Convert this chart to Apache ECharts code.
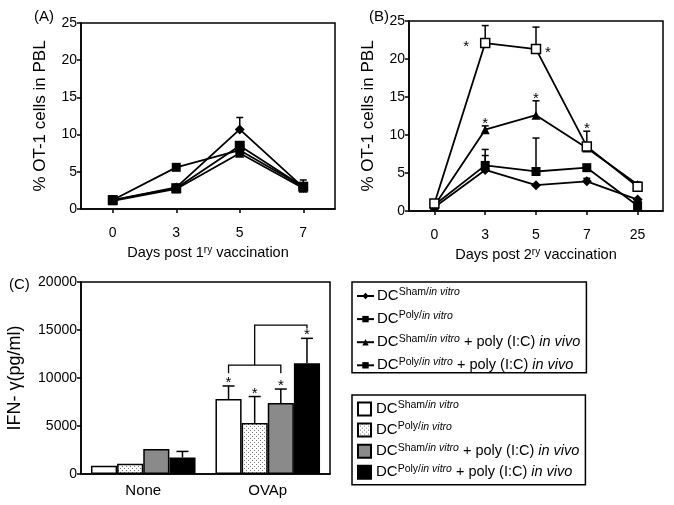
<!DOCTYPE html>
<html><head><meta charset="utf-8">
<script src="https://cdn.jsdelivr.net/npm/echarts@6/dist/echarts.min.js"></script>
<style>html,body{margin:0;padding:0;background:#fff}#c{width:674px;height:505px}</style>
</head><body><div id="c"></div>
<script>
// ---------- DATA ----------
const daysA = ['0', '3', '5', '7'];
const daysB = ['0', '3', '5', '7', '25'];
const groupsC = ['None', 'OVAp'];

// Panel A (% OT-1 cells in PBL, primary vaccination)
const A_sham = [1.2, 2.9, 10.7, 2.9];
const A_sham_err = [0, 0, 1.6, 0];
const A_poly = [1.2, 5.6, 7.9, 3.0];
const A_poly_err = [0, 0, 0, 0];
const A_shamPIC = [1.1, 2.7, 7.5, 2.8];
const A_shamPIC_err = [0, 0, 0, 0];
const A_polyPIC = [1.2, 2.8, 8.5, 3.0];
const A_polyPIC_err = [0, 0, 0, 0.9];

// Panel B (secondary vaccination)
const B_sham = [0.5, 5.4, 3.4, 3.9, 1.5];
const B_sham_err = [0, 1.9, 0, 0.4, 0];
const B_poly = [0.8, 6.0, 5.2, 5.7, 0.7];
const B_poly_err = [0, 2.1, 4.4, 0, 0];
const B_shamPIC = [0.7, 10.7, 12.6, 8.3, 3.5];
const B_shamPIC_err = [0, 0.5, 1.9, 2.2, 0.3];
const B_polyPIC = [1.0, 22.1, 21.3, 8.5, 3.2];
const B_polyPIC_err = [0, 2.3, 2.9, 0, 0.4];
const B_shamPIC_stars = ['3', '5', '7'];
const B_polyPIC_stars = ['3', '5'];

// Panel C (IFN-gamma pg/ml)
const C_sham = [860, 7810];
const C_sham_err = [0, 1360];
const C_poly = [1070, 5310];
const C_poly_err = [0, 2760];
const C_shamPIC = [2600, 7390];
const C_shamPIC_err = [0, 1460];
const C_polyPIC = [1730, 11530];
const C_polyPIC_err = [620, 2600];
const C_stars = ['OVAp'];
// bracket: [leg bottom, bracket bar, upper bar, right leg end]
const C_bracket = [10500, 11350, 15500, 15150];

const yTicksAB = [0, 5, 10, 15, 20, 25];
const yTicksC = [0, 5000, 10000, 15000, 20000];

// ---------- CHART ----------
const FONT = '"Liberation Sans", Arial, sans-serif';
const chart = echarts.init(document.getElementById('c'), null, {renderer: 'canvas'});

// dotted pattern
const pat = document.createElement('canvas');
pat.width = 4; pat.height = 4;
const pc = pat.getContext('2d');
pc.fillStyle = '#fff'; pc.fillRect(0, 0, 4, 4);
pc.fillStyle = '#777'; pc.fillRect(0, 0, 1, 1); pc.fillRect(2, 2, 1, 1);
const dotted = {image: pat, repeat: 'repeat'};

const legendText = {
  L1: '{dc|DC}{sup|Sham/}{supi|in vitro}',
  L2: '{dc|DC}{sup|Poly/}{supi|in vitro}',
  L3: '{dc|DC}{sup|Sham/}{supi|in vitro}{t| + poly (I:C) }{i|in vivo}',
  L4: '{dc|DC}{sup|Poly/}{supi|in vitro}{t| + poly (I:C) }{i|in vivo}'
};
const richLegend = {
  dc: {fontSize: 15, fontFamily: FONT, color: '#000', lineHeight: 18},
  sup: {fontSize: 10.5, fontFamily: FONT, color: '#000', verticalAlign: 'top', lineHeight: 11},
  supi: {fontSize: 10.5, fontFamily: FONT, fontStyle: 'italic', color: '#000', verticalAlign: 'top', lineHeight: 11},
  t: {fontSize: 14.5, fontFamily: FONT, color: '#000', lineHeight: 18},
  i: {fontSize: 14.5, fontFamily: FONT, fontStyle: 'italic', color: '#000', lineHeight: 18}
};

function lineSeries(name, idx, values, symbol, size, open) {
  return {
    type: 'line', name: name, xAxisIndex: idx, yAxisIndex: idx, data: values,
    symbol: symbol, symbolSize: size, showAllSymbol: true, z: 3,
    lineStyle: {color: '#000', width: 1.8},
    itemStyle: open ? {color: '#fff', borderColor: '#000', borderWidth: 1.5} : {color: '#000', borderColor: '#000', borderWidth: 0},
    emphasis: {disabled: true}, animation: false
  };
}

// error bars (+ optional stars) on line panels
function errSeries(idx, cats, values, errs, stars, starMode) {
  const data = values.map((v, i) => [i, v, errs[i], (stars || []).indexOf(cats[i]) >= 0 ? 1 : 0]);
  return {
    type: 'custom', xAxisIndex: idx, yAxisIndex: idx, data: data, z: 2, silent: true, animation: false,
    renderItem: function (params, api) {
      const x = api.value(0), v = api.value(1), e = api.value(2), s = api.value(3);
      const p0 = api.coord([x, v]);
      const p1 = api.coord([x, v + e]);
      const ch = [];
      if (e > 0) {
        ch.push({type: 'line', shape: {x1: p0[0], y1: p0[1], x2: p1[0], y2: p1[1]}, style: {stroke: '#000', lineWidth: 1.5}});
        ch.push({type: 'line', shape: {x1: p1[0] - 3.5, y1: p1[1], x2: p1[0] + 3.5, y2: p1[1]}, style: {stroke: '#000', lineWidth: 1.5}});
      }
      if (s) {
        let tx = p1[0], ty = p1[1] - 2;
        if (starMode === 'side') {
          tx = x === 1 ? p0[0] - 19 : p0[0] + 12;
          ty = p0[1] + 4;
        }
        ch.push({type: 'text', style: {text: '*', x: tx, y: ty, fill: '#000', font: '15px ' + FONT, align: 'center', verticalAlign: 'middle'}});
      }
      return {type: 'group', children: ch};
    }
  };
}

const barNames = ['B1', 'B2', 'B3', 'B4'];
const barColors = ['#fff', dotted, '#8a8a8a', '#000'];
const barVals = [C_sham, C_poly, C_shamPIC, C_polyPIC];
const barErrs = [C_sham_err, C_poly_err, C_shamPIC_err, C_polyPIC_err];
const CAT_GAP = 0.16;

function barSeries(k) {
  return {
    type: 'bar', name: barNames[k], xAxisIndex: 2, yAxisIndex: 2, data: barVals[k],
    barGap: '0%', barCategoryGap: (CAT_GAP * 100) + '%',
    itemStyle: {color: barColors[k], borderColor: '#000', borderWidth: 1.5},
    emphasis: {disabled: true}, animation: false
  };
}
function barErrSeries(k) {
  const data = barVals[k].map((v, i) => [i, v, barErrs[k][i], C_stars.indexOf(groupsC[i]) >= 0 ? 1 : 0]);
  return {
    type: 'custom', xAxisIndex: 2, yAxisIndex: 2, data: data, z: 3, silent: true, animation: false,
    renderItem: function (params, api) {
      const x = api.value(0), v = api.value(1), e = api.value(2), s = api.value(3);
      const band = api.size([1, 0])[0];
      const bw = band * (1 - CAT_GAP) / 4;
      const cx = api.coord([x, 0])[0] + (k - 1.5) * bw;
      const y0 = api.coord([x, v])[1];
      const y1 = api.coord([x, v + e])[1];
      const ch = [];
      if (e > 0) {
        ch.push({type: 'line', shape: {x1: cx, y1: y0, x2: cx, y2: y1}, style: {stroke: '#000', lineWidth: 1.5}});
        ch.push({type: 'line', shape: {x1: cx - 6, y1: y1, x2: cx + 6, y2: y1}, style: {stroke: '#000', lineWidth: 1.5}});
      }
      if (s) ch.push({type: 'text', style: {text: '*', x: cx, y: y1 - 3, fill: '#000', font: '15px ' + FONT, align: 'center', verticalAlign: 'middle'}});
      return {type: 'group', children: ch};
    }
  };
}
const bracketSeries = {
  type: 'custom', xAxisIndex: 2, yAxisIndex: 2, data: [[groupsC.indexOf('OVAp')].concat(C_bracket)], z: 3, silent: true, animation: false,
  renderItem: function (params, api) {
    const x = api.value(0);
    const band = api.size([1, 0])[0];
    const bw = band * (1 - CAT_GAP) / 4;
    const c = api.coord([x, 0])[0];
    const x1 = c - 1.5 * bw, x3 = c + 0.5 * bw, x4 = c + 1.5 * bw, xm = (x1 + x3) / 2;
    const yLeg = api.coord([x, api.value(1)])[1];
    const yBar = api.coord([x, api.value(2)])[1];
    const yTop = api.coord([x, api.value(3)])[1];
    const yEnd = api.coord([x, api.value(4)])[1];
    const st = {stroke: '#000', lineWidth: 1.3, fill: null};
    return {type: 'group', children: [
      {type: 'polyline', shape: {points: [[x1, yLeg], [x1, yBar], [x3, yBar], [x3, yLeg]]}, style: st},
      {type: 'polyline', shape: {points: [[xm, yBar], [xm, yTop], [x4, yTop], [x4, yEnd]]}, style: st}
    ]};
  }
};

const axisLabelStyle = {color: '#000', fontSize: 14, fontFamily: FONT};
const axisLineStyle = {show: true, lineStyle: {color: '#000', width: 1.5}};

function xCat(idx, data, nameRich) {
  return {
    type: 'category', gridIndex: idx, data: data, boundaryGap: true,
    axisLine: axisLineStyle, axisTick: {show: true, alignWithLabel: true, length: 4, lineStyle: {color: '#000', width: 1.5}},
    axisLabel: Object.assign({margin: 17}, axisLabelStyle),
    name: nameRich, nameLocation: 'middle', nameGap: 36,
    nameTextStyle: {rich: {
      a: {fontSize: 14.5, fontFamily: FONT, color: '#000', lineHeight: 16},
      s: {fontSize: 10, fontFamily: FONT, color: '#000', verticalAlign: 'top', lineHeight: 10}
    }}
  };
}
function yVal(idx, ticks, name, gap, nameSize) {
  return {
    type: 'value', gridIndex: idx, min: ticks[0], max: ticks[ticks.length - 1], interval: ticks[1] - ticks[0],
    axisLine: axisLineStyle, axisTick: {show: true, length: 4, lineStyle: {color: '#000', width: 1.5}},
    axisLabel: Object.assign({margin: 4, formatter: v => String(v)}, axisLabelStyle), splitLine: {show: false},
    name: name, nameLocation: 'middle', nameRotate: 90, nameGap: gap,
    nameTextStyle: {color: '#000', fontSize: nameSize, fontFamily: FONT}
  };
}

const option = {
  backgroundColor: '#fff',
  animation: false,
  textStyle: {fontFamily: FONT},
  title: [
    {text: '(A)', left: 29, top: 4, textStyle: {fontSize: 15, fontWeight: 'normal', color: '#000', fontFamily: FONT}},
    {text: '(B)', left: 364, top: 4, textStyle: {fontSize: 15, fontWeight: 'normal', color: '#000', fontFamily: FONT}},
    {text: '(C)', left: 4, top: 272, textStyle: {fontSize: 15, fontWeight: 'normal', color: '#000', fontFamily: FONT}}
  ],
  grid: [
    {left: 81, top: 23, width: 254, height: 186, show: true, borderColor: '#000', borderWidth: 1.5, backgroundColor: 'transparent'},
    {left: 409, top: 21, width: 254, height: 190, show: true, borderColor: '#000', borderWidth: 1.5, backgroundColor: 'transparent'},
    {left: 81, top: 282, width: 249, height: 192, show: true, borderColor: '#000', borderWidth: 1.5, backgroundColor: 'transparent'}
  ],
  xAxis: [
    xCat(0, daysA, '{a|Days post 1}{s|ry}{a| vaccination}'),
    xCat(1, daysB, '{a|Days post 2}{s|ry}{a| vaccination}'),
    Object.assign(xCat(2, groupsC, ''), {axisTick: {show: false}, axisLabel: Object.assign({}, axisLabelStyle, {margin: 9, fontSize: 15})})
  ],
  yAxis: [
    yVal(0, yTicksAB, '% OT-1 cells in PBL', 32, 17),
    yVal(1, yTicksAB, '% OT-1 cells in PBL', 32, 17),
    yVal(2, yTicksC, 'IFN- \u03b3(pg/ml)', 57, 18)
  ],
  legend: [
    {
      data: ['L1', 'L2', 'L3', 'L4'], orient: 'vertical', left: 352, top: 282,
      borderColor: '#000', borderWidth: 1.5, padding: [5, 6, 0, 4], itemGap: 6.6,
      itemWidth: 17, itemHeight: 8, selectedMode: false,
      formatter: n => legendText[n], textStyle: {rich: richLegend, padding: [0, 0, 0, -2]}
    },
    {
      data: ['B1', 'B2', 'B3', 'B4'], orient: 'vertical', left: 352, top: 395,
      borderColor: '#000', borderWidth: 1.5, padding: [5, 6, 5, 5], itemGap: 4.6,
      itemWidth: 13, itemHeight: 13, icon: 'rect', selectedMode: false,
      formatter: n => legendText[n.replace('B', 'L')], textStyle: {rich: richLegend}
    }
  ],
  series: [
    lineSeries('L1', 0, A_sham, 'diamond', 10, false),
    lineSeries('L2', 0, A_poly, 'rect', 9, false),
    lineSeries('L3', 0, A_shamPIC, 'triangle', 9, false),
    lineSeries('L4', 0, A_polyPIC, 'rect', 10, false),
    errSeries(0, daysA, A_sham, A_sham_err),
    errSeries(0, daysA, A_poly, A_poly_err),
    errSeries(0, daysA, A_shamPIC, A_shamPIC_err),
    errSeries(0, daysA, A_polyPIC, A_polyPIC_err),
    lineSeries('L1', 1, B_sham, 'diamond', 10, false),
    lineSeries('L2', 1, B_poly, 'rect', 9, false),
    lineSeries('L3', 1, B_shamPIC, 'triangle', 9, false),
    lineSeries('L4', 1, B_polyPIC, 'rect', 9, true),
    errSeries(1, daysB, B_sham, B_sham_err),
    errSeries(1, daysB, B_poly, B_poly_err),
    errSeries(1, daysB, B_shamPIC, B_shamPIC_err, B_shamPIC_stars, 'top'),
    errSeries(1, daysB, B_polyPIC, B_polyPIC_err, B_polyPIC_stars, 'side'),
    barSeries(0), barSeries(1), barSeries(2), barSeries(3),
    barErrSeries(0), barErrSeries(1), barErrSeries(2), barErrSeries(3),
    bracketSeries
  ]
};
chart.setOption(option);
</script>
</body></html>
